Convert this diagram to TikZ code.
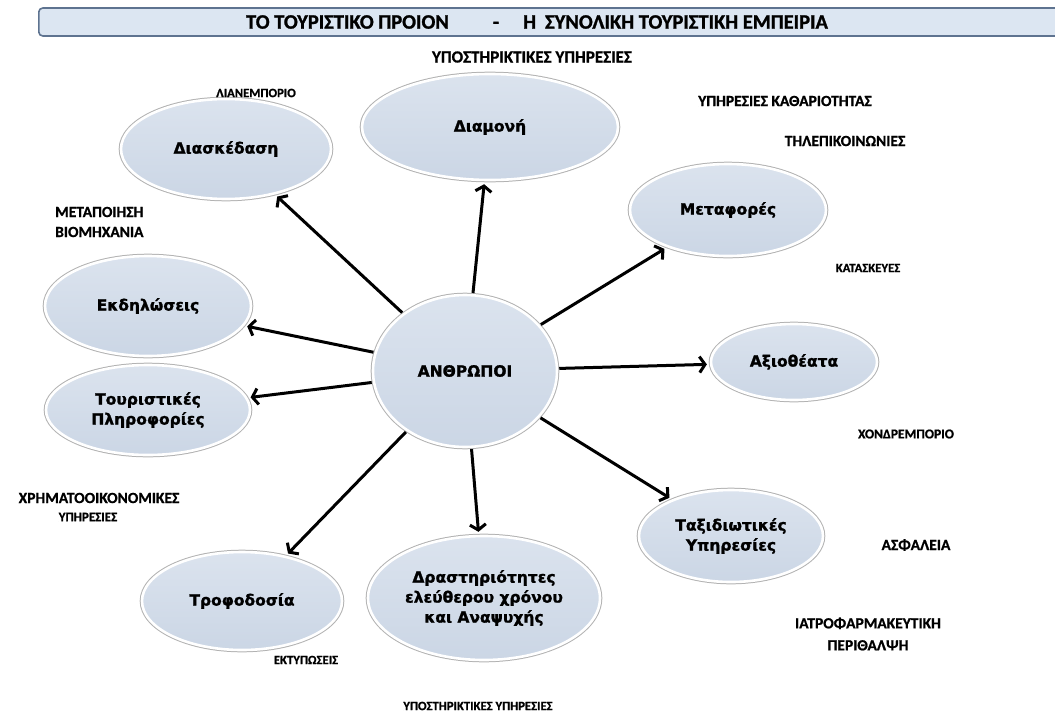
\documentclass[tikz,border=0pt]{standalone}
\usepackage{fontspec}
\newfontfamily\labfont{Carlito}[UprightFont={* Bold}, FakeBold=0.9]
\newfontfamily\titfont{Carlito}[UprightFont={* Bold}, FakeBold=1.2]
\newfontfamily\elfont{DejaVu Sans}[UprightFont={* Bold}, FakeBold=1.4]
\usetikzlibrary{shapes.geometric,arrows.meta}
\definecolor{elltop}{HTML}{DBE3EE}
\definecolor{ellbot}{HTML}{CBD6E5}
\definecolor{barfill}{HTML}{DCE6F2}
\definecolor{barline}{HTML}{5E7390}
\tikzset{
  bubble/.style={ellipse, inner sep=0pt, top color=elltop, bottom color=ellbot,
    draw=white, line width=2.6pt,
    preaction={draw=black!30, line width=4.6pt},
    font=\elfont\fontsize{15.5}{20}\selectfont, align=center},
  labbig/.style={font=\labfont\fontsize{15.5}{18}\selectfont, inner sep=0pt, align=center},
  labmid/.style={font=\labfont\fontsize{13.5}{16}\selectfont, inner sep=0pt, align=center},
  labsmall/.style={font=\labfont\fontsize{12.7}{15}\selectfont, inner sep=0pt, align=center},
  labtop/.style={font=\labfont\fontsize{17}{20}\selectfont, inner sep=0pt, align=center},
  conn/.style={-{Straight Barb[length=5.5pt,width=16pt]}, line width=3pt, shorten >=3pt, shorten <=1pt},
  titlebar/.style={rounded corners=4pt, fill=barfill, draw=barline, line width=1.6pt, inner sep=0pt}
}
\begin{document}
\begin{tikzpicture}[x=1pt,y=-1pt]
\useasboundingbox (0,0) rectangle (1055,715);
% title bar
\node[titlebar, anchor=west, minimum width=1040pt, minimum height=28pt] (bar) at (38,22) {};
\node[font=\titfont\fontsize{20.5}{22}\selectfont, inner sep=0pt] (title) at (537,22)
  {ΤΟ ΤΟΥΡΙΣΤΙΚΟ ΠΡΟΙΟΝ\hspace{44pt}-\hspace{24pt}Η\hspace{9pt}ΣΥΝΟΛΙΚΗ ΤΟΥΡΙΣΤΙΚΗ ΕΜΠΕΙΡΙΑ};
% ellipses
\node[bubble, minimum width=184pt, minimum height=152pt] (c) at (465,371) {ΑΝΘΡΩΠΟΙ};
\node[bubble, minimum width=256pt, minimum height=106pt] (diam) at (490,127) {Διαμονή};
\node[bubble, minimum width=210pt, minimum height=100pt] (diask) at (226,149) {Διασκέδαση};
\node[bubble, minimum width=196pt, minimum height=92pt] (metaf) at (728,210) {Μεταφορές};
\node[bubble, minimum width=206pt, minimum height=100pt] (ekd) at (148,306) {Εκδηλώσεις};
\node[bubble, minimum width=166pt, minimum height=76pt] (axio) at (794,362) {Αξιοθέατα};
\node[bubble, minimum width=204pt, minimum height=90pt] (tour) at (148,410) {Τουριστικές\\Πληροφορίες};
\node[bubble, minimum width=184pt, minimum height=92pt] (taxid) at (731,536) {Ταξιδιωτικές\\Υπηρεσίες};
\node[bubble, minimum width=200pt, minimum height=98pt] (trof) at (242,601) {Τροφοδοσία};
\node[bubble, minimum width=232pt, minimum height=124pt] (drast) at (484,598) {Δραστηριότητες\\ελεύθερου χρόνου\\και Αναψυχής};
% arrows
\draw[conn] (c) -- (diam);
\draw[conn] (c) -- (diask);
\draw[conn] (c) -- (metaf);
\draw[conn] (c) -- (ekd);
\draw[conn] (c) -- (axio);
\draw[conn] (c) -- (tour);
\draw[conn] (c) -- (taxid);
\draw[conn] (c) -- (trof);
\draw[conn] (c) -- (drast);
% labels
\node[labtop] (l1) at (532,57) {ΥΠΟΣΤΗΡΙΚΤΙΚΕΣ ΥΠΗΡΕΣΙΕΣ};
\node[labsmall] (l2) at (256,93) {ΛΙΑΝΕΜΠΟΡΙΟ};
\node[labbig] (l3) at (785,101) {ΥΠΗΡΕΣΙΕΣ ΚΑΘΑΡΙΟΤΗΤΑΣ};
\node[labbig] (l4) at (845,141) {ΤΗΛΕΠΙΚΟΙΝΩΝΙΕΣ};
\node[labbig, anchor=west, align=left] (l5) at (55,222) {ΜΕΤΑΠΟΙΗΣΗ\\[2pt]ΒΙΟΜΗΧΑΝΙΑ};
\node[labsmall] (l6) at (868,268) {ΚΑΤΑΣΚΕΥΕΣ};
\node[labmid] (l7) at (906,434) {ΧΟΝΔΡΕΜΠΟΡΙΟ};
\node[labbig] (l8) at (99,498) {ΧΡΗΜΑΤΟΟΙΚΟΝΟΜΙΚΕΣ};
\node[labsmall, font=\labfont\fontsize{13}{15}\selectfont] (l9) at (88,517) {ΥΠΗΡΕΣΙΕΣ};
\node[labbig] (l10) at (916,545) {ΑΣΦΑΛΕΙΑ};
\node[labbig] (l11) at (868,634) {ΙΑΤΡΟΦΑΡΜΑΚΕΥΤΙΚΗ\\[4pt]ΠΕΡΙΘΑΛΨΗ};
\node[labsmall] (l12) at (306,660) {ΕΚΤΥΠΩΣΕΙΣ};
\node[labsmall] (l13) at (478,706) {ΥΠΟΣΤΗΡΙΚΤΙΚΕΣ ΥΠΗΡΕΣΙΕΣ};
\end{tikzpicture}
\end{document}
